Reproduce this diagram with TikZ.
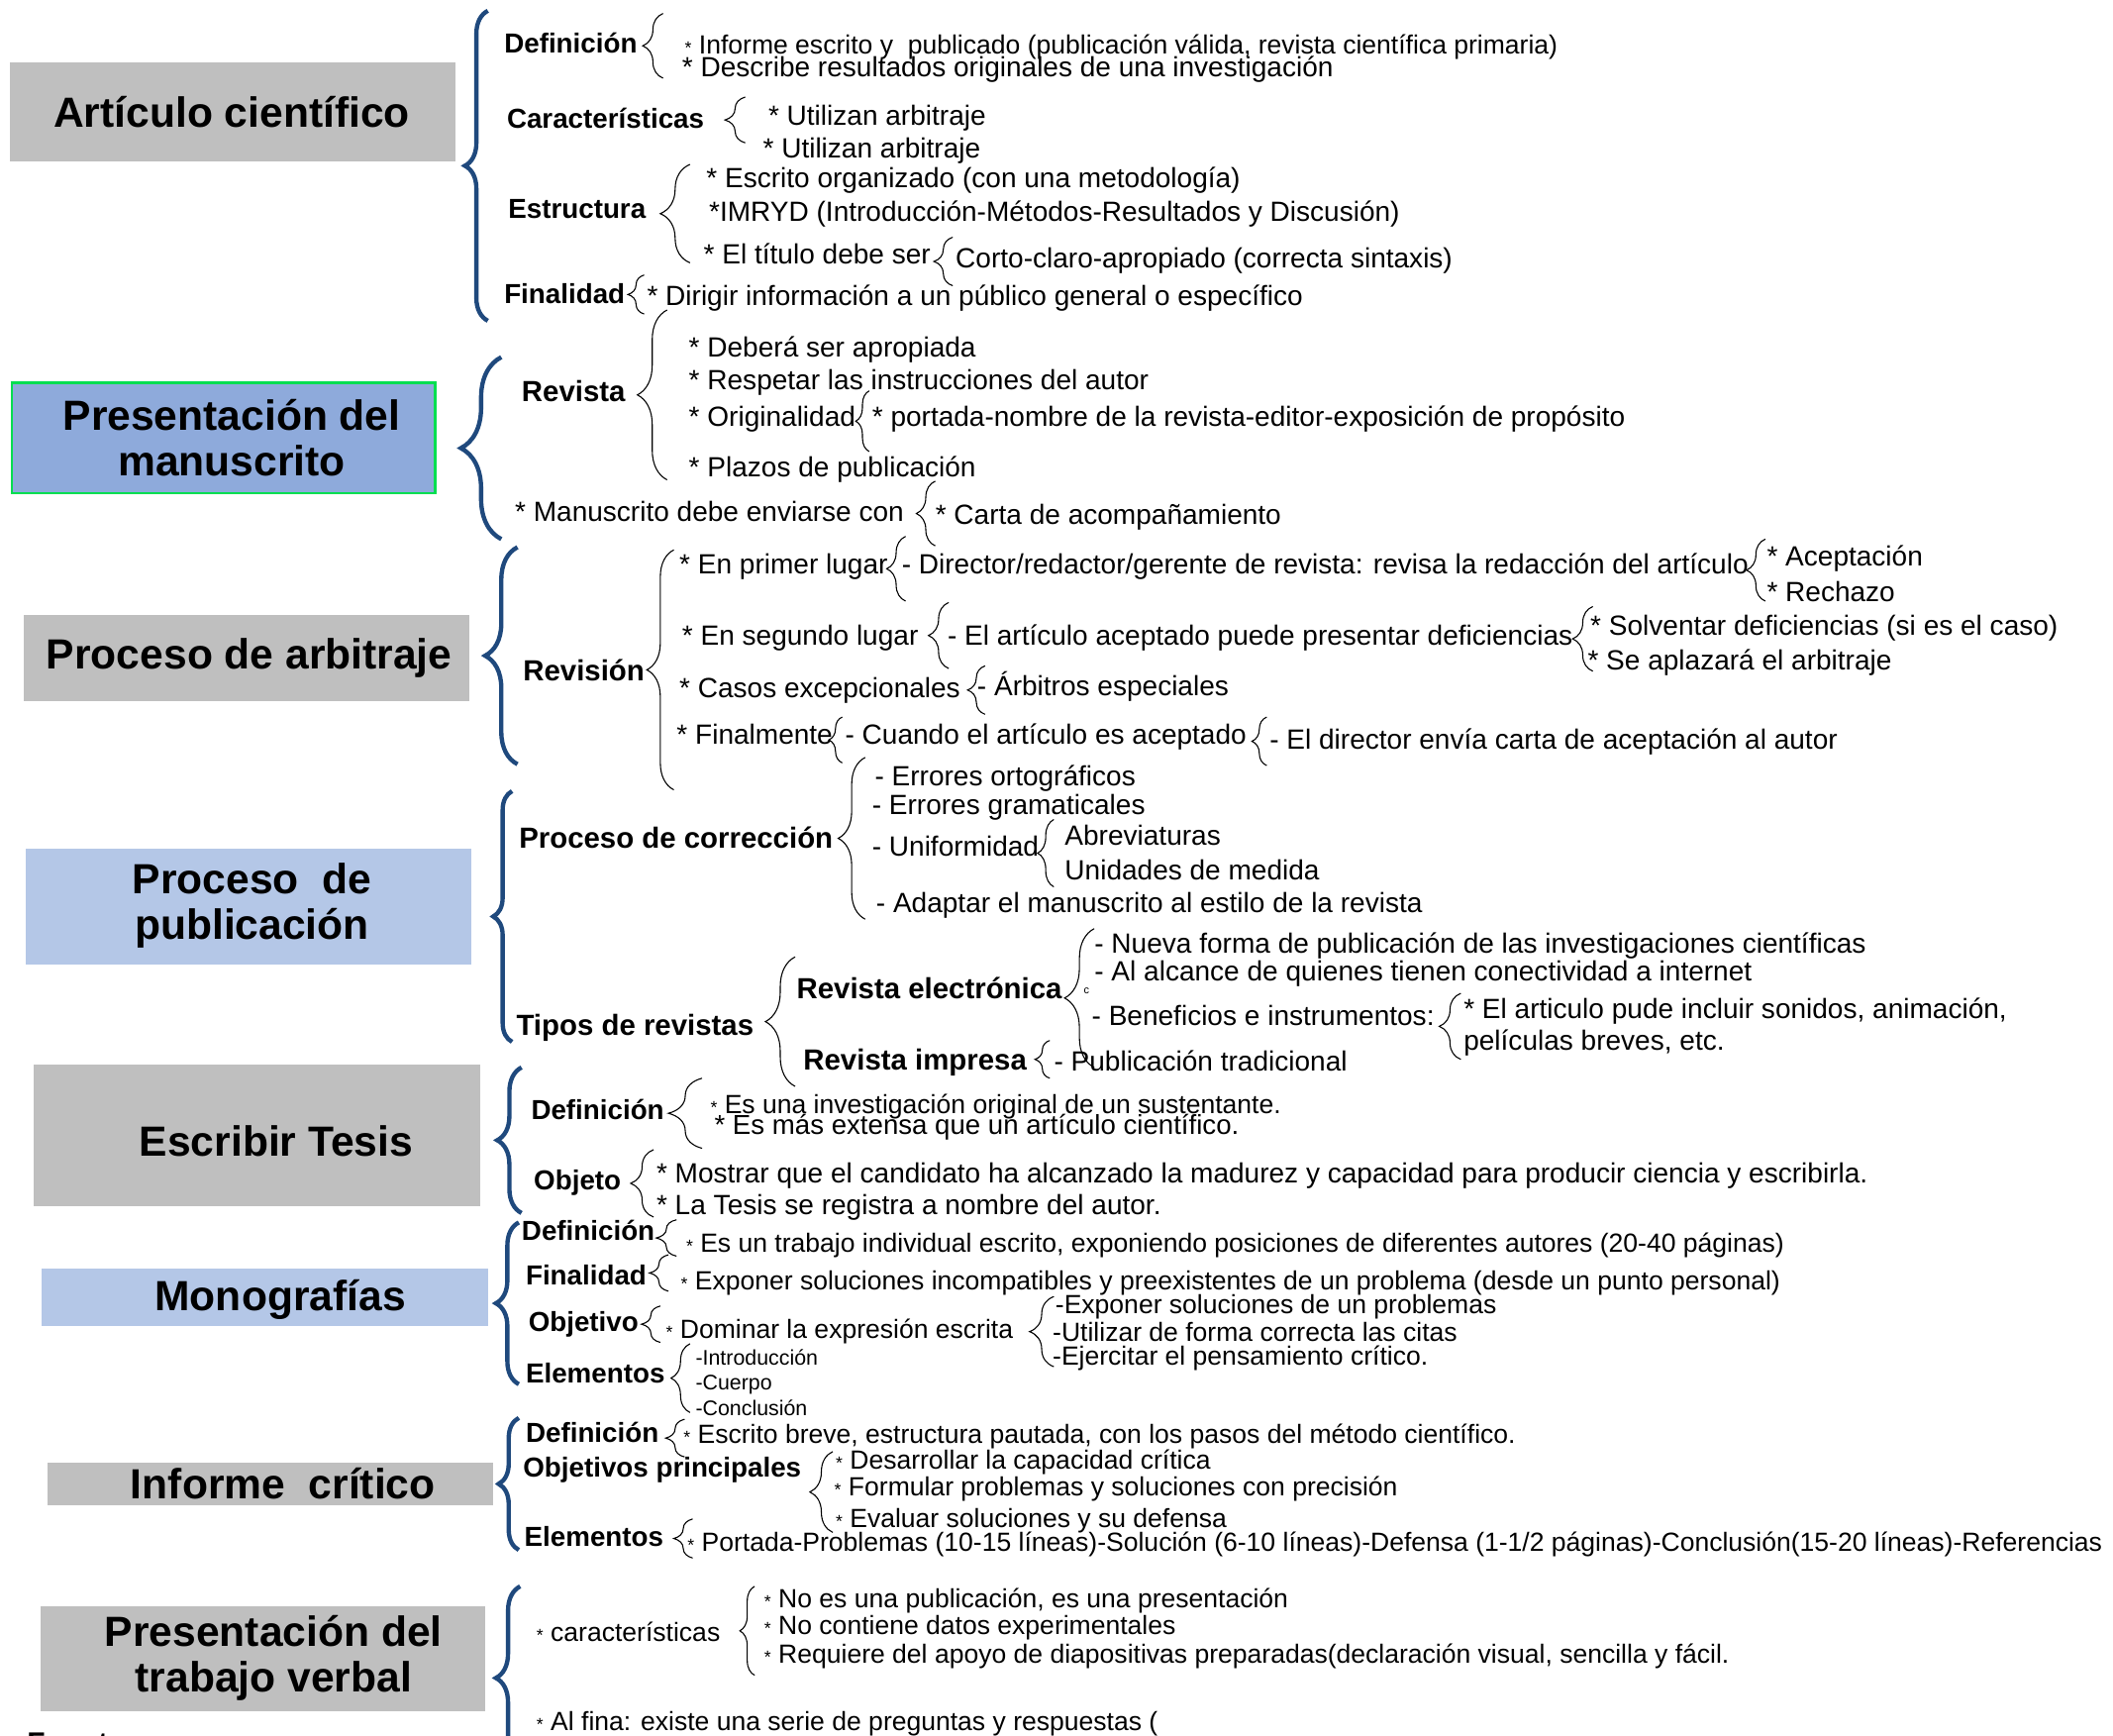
\documentclass[tikz,border=0pt]{standalone}
\usepackage{fontspec}
\setmainfont{Liberation Sans}
\usetikzlibrary{decorations.pathreplacing}
\definecolor{bgray}{RGB}{191,191,191}
\definecolor{mblue}{RGB}{142,170,219}
\definecolor{lblue}{RGB}{180,199,231}
\definecolor{gborder}{RGB}{0,222,80}
\definecolor{bdark}{RGB}{31,73,125}
\newcommand{\fsz}[1]{\fontsize{#1}{#1}\selectfont}
\newcommand{\sa}{{\fontsize{13}{13}\selectfont *}}
\newcommand{\BB}[4]{\draw[bigbr=#4] (#1,#3) -- (#1,#2);}
\newcommand{\SB}[4]{\draw[smbr=#4] (#1,#3) -- (#1,#2);}
\begin{document}
\begin{tikzpicture}[x=1pt,y=-1pt,
  tx/.style={anchor=base west,inner sep=0pt,font=\fsz{20.6}},
  sm/.style={anchor=base west,inner sep=0pt,font=\fsz{19.5}},
  bx/.style={anchor=base west,inner sep=0pt,font=\fsz{20.4}\bfseries},
  bxl/.style={anchor=base west,inner sep=0pt,font=\fsz{21.6}\bfseries},
  ttl/.style={font=\fontsize{31.3}{34}\selectfont\bfseries,align=center,inner sep=0pt},
  boxg/.style={fill=bgray,draw=none,inner sep=0pt},
  boxlb/.style={fill=lblue,draw=none,inner sep=0pt},
  boxmb/.style={fill=mblue,draw=gborder,line width=1.8pt,inner sep=0pt},
  bigbr/.style={draw=bdark,line width=3.2pt,decorate,decoration={brace,amplitude=#1}},
  smbr/.style={draw=black,line width=0.8pt,decorate,decoration={brace,amplitude=#1}},
]
\fill[white] (0,0) rectangle (1568,1288);
\useasboundingbox (0,0) rectangle (1568,1288);

% ---------- title boxes ----------
\node[boxg, minimum width=331pt, minimum height=74pt] (b1) at (172.5,83) {};
\node[ttl] (t1) at (172,83) {Artículo científico};
\node[boxmb, minimum width=314pt, minimum height=82pt] (b2) at (166,325) {};
\node[ttl] (t2) at (172,325) {Presentación del\\manuscrito};
\node[boxg, minimum width=330pt, minimum height=64pt] (b3) at (183,488) {};
\node[ttl] (t3) at (185,488) {Proceso de arbitraje};
\node[boxlb, minimum width=331pt, minimum height=86pt] (b4) at (184.5,673) {};
\node[ttl] (t4) at (187,672) {Proceso\ \ de\\publicación};
\node[boxg, minimum width=331pt, minimum height=105pt] (b5) at (190.5,842.5) {};
\node[ttl] (t5) at (205,847) {Escribir Tesis};
\node[boxlb, minimum width=331pt, minimum height=43pt] (b6) at (196.5,962.5) {};
\node[ttl] (t6) at (208,964) {Monografías};
\node[boxg, minimum width=331pt, minimum height=32pt] (b7) at (200.5,1101) {};
\node[ttl] (t7) at (210,1101) {Informe\ \ crítico};
\node[boxg, minimum width=330pt, minimum height=78pt] (b8) at (195,1231) {};
\node[ttl] (t8) at (203,1230) {Presentación del\\trabajo verbal};
\node[bx, font=\fsz{22}\bfseries] (fu) at (20,1301) {Fuente};

% ---------- big braces ----------
\BB{362}{8}{238}{17}
\BB{372}{265}{400}{30}
\BB{384}{406}{567}{24}
\BB{380}{587}{773}{14}
\BB{387}{792}{900}{18}
\BB{385}{907}{1027}{17}
\BB{385}{1052}{1150}{15}
\BB{386}{1177}{1313}{18}

% ---------- section 1 ----------
\node[bx] (s1a) at (374,39) {Definición};
\SB{492}{10}{58}{15}
\node[sm] (s1a1) at (508,40) {\sa\ Informe escrito y\ \ publicado (publicación válida, revista científica primaria)};
\node[tx] (s1a2) at (506,57) {* Describe resultados originales de una investigación};
\node[bx] (s1b) at (376,95) {Características};
\SB{553}{72}{106}{15}
\node[tx] (s1b1) at (570,93) {* Utilizan arbitraje};
\node[tx] (s1b2) at (566,117) {* Utilizan arbitraje};
\node[bx] (s1c) at (377,162) {Estructura};
\SB{512}{122}{195}{22}
\node[tx] (s1c1) at (524,139) {* Escrito organizado (con una metodología)};
\node[tx] (s1c2) at (526,164) {*IMRYD (Introducción-Métodos-Resultados y Discusión)};
\node[tx] (s1c3) at (522,196) {* El título debe ser};
\SB{707}{176}{212}{14}
\node[tx] (s1c4) at (709,199) {Corto-claro-apropiado (correcta sintaxis)};
\node[bx] (s1d) at (374,225) {Finalidad};
\SB{478}{204}{233}{12}
\node[tx] (s1d1) at (480,227) {* Dirigir información a un público general o específico};

% ---------- section 2 ----------
\node[bxl] (s2a) at (387,298) {Revista};
\SB{495}{230}{356}{22}
\node[tx] (s2a1) at (511,265) {* Deberá ser apropiada};
\node[tx] (s2a2) at (511,289) {* Respetar las instrucciones del autor};
\node[tx] (s2a3) at (511,316) {* Originalidad};
\SB{645}{290}{335}{10}
\node[tx] (s2a4) at (647,316) {* portada-nombre de la revista-editor-exposición de propósito};
\node[tx] (s2a5) at (511,354) {* Plazos de publicación};
\node[tx] (s2b) at (382,387) {* Manuscrito debe enviarse con};
\SB{694}{357}{405}{14}
\node[tx] (s2b1) at (694,389) {* Carta de acompañamiento};

% ---------- section 3 ----------
\node[bxl] (s3a) at (388,505) {Revisión};
\SB{500}{408}{586}{20}
\node[tx] (s3a1) at (504,426) {* En primer lugar};
\SB{672}{398}{446}{14}
\node[tx] (s3a2) at (669,426) {- Director/redactor/gerente de revista: revisa la redacción del artículo};
\SB{1310}{400}{446}{14}
\node[tx] (s3a3) at (1311,420) {* Aceptación};
\node[tx] (s3a4) at (1311,446) {* Rechazo};
\node[tx] (s3b1) at (506,479) {* En segundo lugar};
\SB{704}{447}{496}{15}
\node[tx] (s3b2) at (703,479) {- El artículo aceptado puede presentar deficiencias};
\SB{1182}{450}{498}{15}
\node[tx] (s3b3) at (1180,471) {* Solventar deficiencias (si es el caso)};
\node[tx] (s3b4) at (1178,497) {* Se aplazará el arbitraje};
\node[tx] (s3c1) at (504,518) {* Casos excepcionales};
\SB{731}{494}{530}{13}
\node[tx] (s3c2) at (725,516) {- Árbitros especiales};
\node[tx] (s3d1) at (502,552) {* Finalmente};
\SB{625}{532}{566}{10}
\node[tx] (s3d2) at (627,552) {- Cuando el artículo es aceptado};
\SB{940}{532}{568}{11}
\node[tx] (s3d3) at (942,556) {- El director envía carta de aceptación al autor};

% ---------- section 4 ----------
\node[bxl] (s4a) at (385,629) {Proceso de corrección};
\SB{642}{562}{682}{20}
\node[tx] (s4a1) at (649,583) {- Errores ortográficos};
\node[tx] (s4a2) at (647,604) {- Errores gramaticales};
\node[tx] (s4a3) at (647,635) {- Uniformidad};
\SB{782}{608}{658}{12}
\node[tx] (s4a4) at (790,627) {Abreviaturas};
\node[tx] (s4a5) at (790,653) {Unidades de medida};
\node[tx] (s4a6) at (650,677) {- Adaptar el manuscrito al estilo de la revista};
\node[bxl] (s4b) at (383,768) {Tipos de revistas};
\SB{590}{710}{806}{22}
\node[bxl] (s4c) at (591,741) {Revista electrónica};
\SB{812}{689}{792}{22}
\node[tx] (s4c1) at (812,707) {- Nueva forma de publicación de las investigaciones científicas};
\node[tx] (s4c2) at (812,728) {- Al alcance de quienes tienen conectividad a internet};
\node[tx, font=\fsz{8}] (s4cc) at (804,737) {c};
\node[tx] (s4c3) at (810,761) {- Beneficios e instrumentos:};
\SB{1084}{737}{786}{16}
\node[tx] (s4c4) at (1086,756) {* El articulo pude incluir sonidos, animación,};
\node[tx] (s4c5) at (1086,779) {películas breves, etc.};
\node[bxl] (s4d) at (596,794) {Revista impresa};
\SB{779}{772}{800}{11}
\node[tx] (s4d1) at (782,795) {- Publicación tradicional};

% ---------- section 5 ----------
\node[bx] (s5a) at (394,831) {Definición};
\SB{521}{800}{852}{25}
\node[sm] (s5a1) at (527,826) {\sa\ Es una investigación original de un sustentante.};
\node[tx, font=\fsz{20.3}] (s5a2) at (530,842) {* Es más extensa que un artículo científico.};
\node[bx] (s5b) at (396,883) {Objeto};
\SB{485}{853}{903}{17}
\node[tx] (s5b1) at (487,878) {* Mostrar que el candidato ha alcanzado la madurez y capacidad para producir ciencia y escribirla.};
\node[tx] (s5b2) at (487,901) {* La Tesis se registra a nombre del autor.};

% ---------- section 6 ----------
\node[bx] (s6a) at (387,920) {Definición};
\SB{502}{905}{932}{15}
\node[sm] (s6a1) at (509,929) {\sa\ Es un trabajo individual escrito, exponiendo posiciones de diferentes autores (20-40 páginas)};
\node[bx] (s6b) at (390,953) {Finalidad};
\SB{496}{931}{958}{14}
\node[sm] (s6b1) at (505,957) {\sa\ Exponer soluciones incompatibles y preexistentes de un problema (desde un punto personal)};
\node[bx] (s6c) at (392,988) {Objetivo};
\SB{490}{969}{996}{14}
\node[sm] (s6c1) at (494,993) {\sa\ Dominar la expresión escrita};
\SB{782}{962}{1014}{18}
\node[sm] (s6c2) at (783,975) {-Exponer soluciones de un problemas};
\node[sm] (s6c3) at (781,995) {-Utilizar de forma correcta las citas};
\node[sm] (s6c4) at (781,1013) {-Ejercitar el pensamiento crítico.};
\node[bx] (s6d) at (390,1026) {Elementos};
\SB{512}{997}{1048}{14}
\node[tx, font=\fsz{15.7}] (s6d1) at (516,1013) {-Introducción};
\node[tx, font=\fsz{15.7}] (s6d2) at (516,1031) {-Cuerpo};
\node[tx, font=\fsz{15.7}] (s6d3) at (516,1050) {-Conclusión};

% ---------- section 7 ----------
\node[bx] (s7a) at (390,1070) {Definición};
\SB{508}{1053}{1081}{14}
\node[sm] (s7a1) at (507,1071) {\sa\ Escrito breve, estructura pautada, con los pasos del método científico.};
\node[bx] (s7b) at (388,1096) {Objetivos principales};
\SB{618}{1077}{1137}{17}
\node[sm] (s7b1) at (620,1090) {\sa\ Desarrollar la capacidad crítica};
\node[sm] (s7b2) at (619,1110) {\sa\ Formular problemas y soluciones con precisión};
\node[sm] (s7b3) at (620,1133) {\sa\ Evaluar soluciones y su defensa};
\node[bx] (s7c) at (389,1147) {Elementos};
\SB{514}{1127}{1156}{14}
\node[sm] (s7c1) at (510,1151) {\sa\ Portada-Problemas (10-15 líneas)-Solución (6-10 líneas)-Defensa (1-1/2 páginas)-Conclusión(15-20 líneas)-Referencias};

% ---------- section 8 ----------
\node[sm] (s8a) at (398,1218) {\sa\ características};
\SB{560}{1177}{1243}{11}
\node[sm] (s8a1) at (567,1193) {\sa\ No es una publicación, es una presentación};
\node[sm] (s8a2) at (567,1213) {\sa\ No contiene datos experimentales};
\node[sm] (s8a3) at (567,1234) {\sa\ Requiere del apoyo de diapositivas preparadas(declaración visual, sencilla y fácil.};
\node[sm] (s8b) at (398,1284) {\sa\ Al fina: existe una serie de preguntas y respuestas (};
\end{tikzpicture}
\end{document}
